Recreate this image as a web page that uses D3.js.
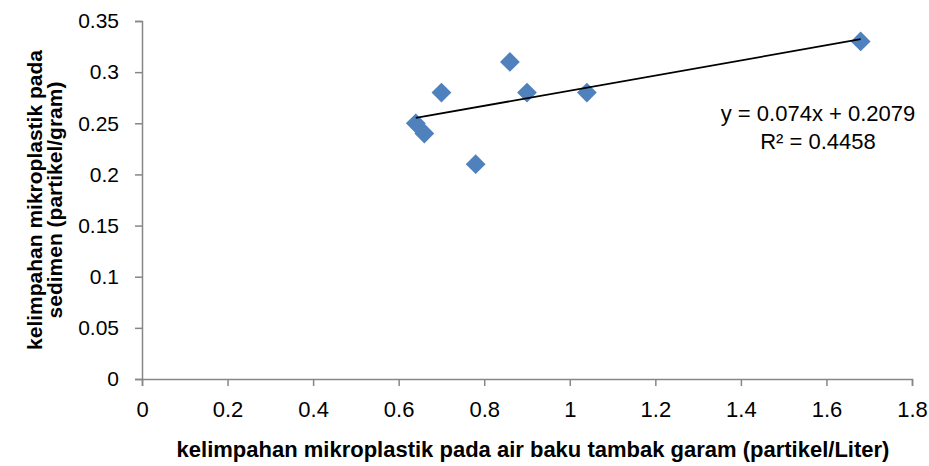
<!DOCTYPE html>
<html lang="en">
<head>
    <meta charset="UTF-8">
    <title>Mikroplastik air vs sedimen</title>
    <script src="https://d3js.org/d3.v7.min.js"></script>
    <style type="text/css">
        body {
            margin: 0;
            background: #ffffff;
            font-family: "Liberation Sans", Arial, sans-serif;
        }
        svg { display: block; }
        .axis path, .axis line { stroke: #868686; stroke-width: 1.5; }
        .axis text { fill: #000; font-family: "Liberation Sans", Arial, sans-serif; }
        .title { font-weight: bold; fill: #000; }
    </style>
</head>
<body>
    <div id="chart"></div>
    <script type="text/javascript">
        // Data
        const airBaku = [0.64, 0.66, 0.70, 0.78, 0.86, 0.90, 1.04, 1.68];   // partikel/Liter
        const sedimen = [0.25, 0.24, 0.28, 0.21, 0.31, 0.28, 0.28, 0.33];   // partikel/gram
        const xTicks = [0, 0.2, 0.4, 0.6, 0.8, 1, 1.2, 1.4, 1.6, 1.8];
        const yTicks = [0, 0.05, 0.1, 0.15, 0.2, 0.25, 0.3, 0.35];
        const slope = 0.074, intercept = 0.2079, r2 = 0.4458;

        const points = airBaku.map((x, i) => ({x: x, y: sedimen[i]}));

        const W = 929, H = 466;
        const margin = {top: 21, right: 17, bottom: 87, left: 142},
            width = W - margin.left - margin.right,
            height = H - margin.top - margin.bottom;

        const svg = d3.select('#chart').append('svg')
            .attr('width', W)
            .attr('height', H);

        const g = svg.append('g')
            .attr('transform', `translate(${margin.left},${margin.top})`);

        const x = d3.scaleLinear().domain([0, 1.8]).range([0, width]);
        const y = d3.scaleLinear().domain([0, 0.35]).range([height, 0]);

        // X axis
        const xAxis = g.append('g')
            .attr('class', 'axis')
            .attr('transform', `translate(0,${height})`)
            .call(d3.axisBottom(x).tickValues(xTicks).tickSize(7).tickSizeOuter(7).tickPadding(15)
                .tickFormat(d => String(+d.toFixed(2))));
        xAxis.selectAll('text').style('font-size', '22px');

        // Y axis
        const yAxis = g.append('g')
            .attr('class', 'axis')
            .call(d3.axisLeft(y).tickValues(yTicks).tickSize(7).tickSizeOuter(7).tickPadding(16)
                .tickFormat(d => String(+d.toFixed(2))));
        yAxis.selectAll('text').style('font-size', '21px');

        // Points (diamonds)
        const diamond = d3.symbol().type(d3.symbolSquare).size(196);
        g.selectAll('.pt')
            .data(points)
            .enter().append('path')
            .attr('class', 'pt')
            .attr('d', diamond)
            .attr('transform', d => `translate(${x(d.x)},${y(d.y)}) rotate(45)`)
            .attr('fill', '#4F81BD');

        // Linear trendline over the points
        const xMin = d3.min(airBaku), xMax = d3.max(airBaku);
        g.append('line')
            .attr('x1', x(xMin)).attr('y1', y(slope * xMin + intercept))
            .attr('x2', x(xMax)).attr('y2', y(slope * xMax + intercept))
            .attr('stroke', '#000')
            .attr('stroke-width', 1.8);

        // Equation label
        const eq = svg.append('text')
            .attr('x', 818)
            .attr('y', 121)
            .attr('text-anchor', 'middle')
            .style('font-size', '22px');
        eq.append('tspan').attr('x', 818).text(`y = ${slope}x + ${intercept}`);
        eq.append('tspan').attr('x', 818).attr('dy', 28).text(`R² = ${r2}`);

        // Axis titles
        svg.append('text')
            .attr('class', 'title')
            .attr('x', 533)
            .attr('y', 457)
            .attr('text-anchor', 'middle')
            .style('font-size', '22px')
            .text('kelimpahan mikroplastik pada air baku tambak garam (partikel/Liter)');

        const yt = svg.append('text')
            .attr('class', 'title')
            .attr('transform', 'translate(0,200) rotate(-90)')
            .attr('text-anchor', 'middle')
            .style('font-size', '21px');
        yt.append('tspan').attr('x', 0).attr('y', 42).text('kelimpahan mikroplastik pada');
        yt.append('tspan').attr('x', 0).attr('y', 62).text('sedimen (partikel/gram)');
    </script>
</body>
</html>
